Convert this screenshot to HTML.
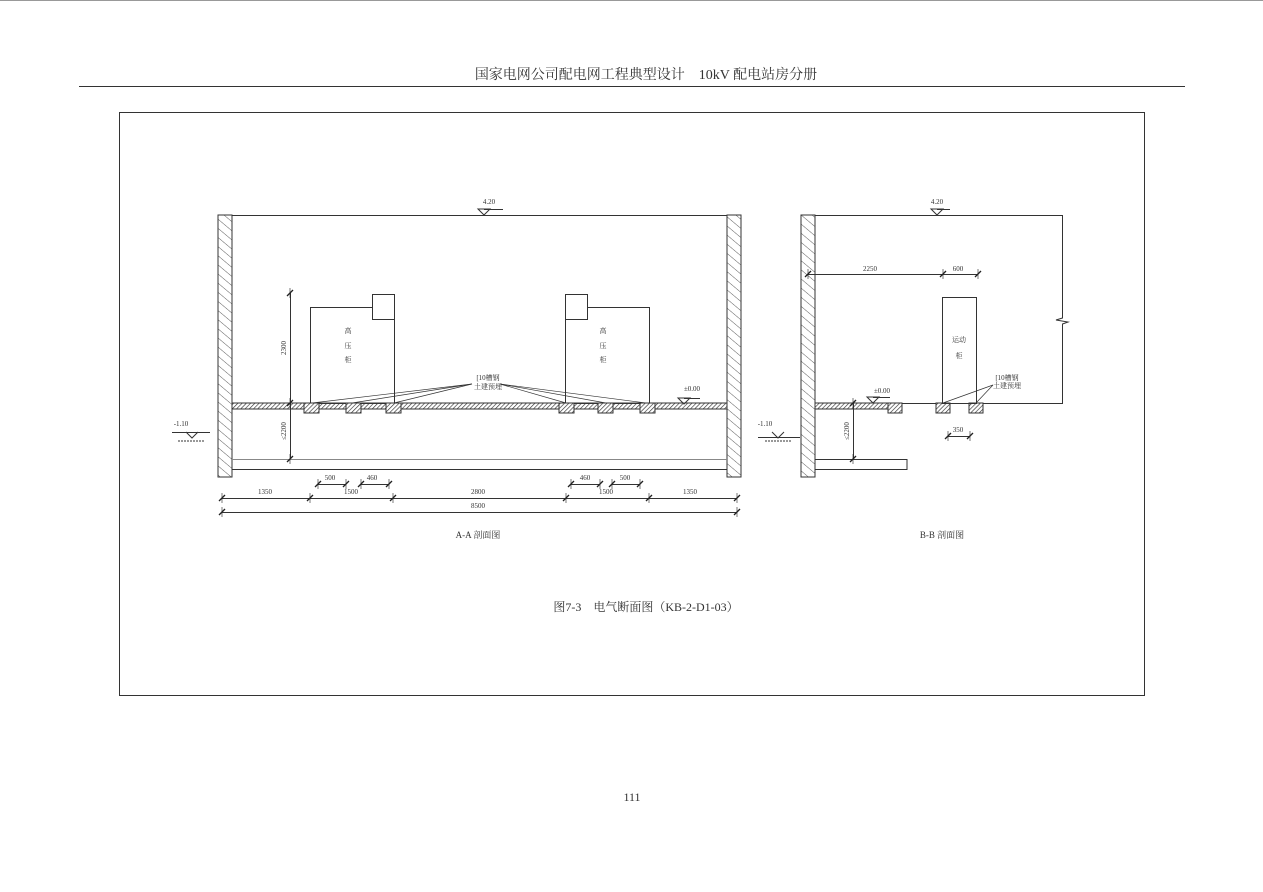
<!DOCTYPE html>
<html><head><meta charset="utf-8"><style>
html,body{margin:0;padding:0;background:#fff;}
svg{display:block;}
text{font-family:"Liberation Serif","Noto Serif CJK SC","Noto Sans CJK SC",serif;fill:#333;}
</style></head><body>
<svg width="1263" height="892" viewBox="0 0 1263 892" xmlns="http://www.w3.org/2000/svg">
<defs>
<pattern id="h" width="3" height="3" patternUnits="userSpaceOnUse" patternTransform="rotate(45)">
<rect width="3" height="3" fill="#fff"/><line x1="0" y1="0" x2="0" y2="3" stroke="#333" stroke-width="1.3"/></pattern>
<pattern id="w" width="7" height="7" patternUnits="userSpaceOnUse" patternTransform="rotate(-50)">
<rect width="7" height="7" fill="#fff"/><line x1="0" y1="0" x2="0" y2="7" stroke="#333" stroke-width="0.8"/></pattern>
<g id="tk"><line x1="-3" y1="3" x2="3" y2="-3" stroke="#222" stroke-width="1.3"/><line x1="0" y1="-5" x2="0" y2="5" stroke="#222" stroke-width="0.6"/></g>
</defs>
<line x1="0" y1="0.5" x2="1263" y2="0.5" stroke="#999"/>
<text x="646" y="79" font-size="14" text-anchor="middle" fill="#222">国家电网公司配电网工程典型设计　10kV 配电站房分册</text>
<line x1="79" y1="86.5" x2="1185" y2="86.5" stroke="#333"/>
<rect x="119.5" y="112.5" width="1025" height="583" fill="none" stroke="#333"/>

<g stroke="#333" fill="none" stroke-width="1">
<rect x="218" y="215" width="14" height="262" fill="url(#w)"/>
<rect x="727" y="215" width="14" height="262" fill="url(#w)"/>
<line x1="232" y1="215.5" x2="727" y2="215.5"/>
<rect x="232" y="403" width="495" height="6" fill="url(#h)"/>
<line x1="232" y1="459.5" x2="727" y2="459.5" stroke="#888"/>
<line x1="232" y1="469.5" x2="727" y2="469.5"/>
<rect x="310.5" y="307.5" width="84" height="96"/>
<rect x="372.5" y="294.5" width="22" height="25" fill="#fff"/>
<rect x="565.5" y="307.5" width="84" height="96"/>
<rect x="565.5" y="294.5" width="22" height="25" fill="#fff"/>
<g fill="url(#h)">
<rect x="304" y="403" width="15" height="10"/><rect x="346" y="403" width="15" height="10"/><rect x="386" y="403" width="15" height="10"/>
<rect x="559" y="403" width="15" height="10"/><rect x="598" y="403" width="15" height="10"/><rect x="640" y="403" width="15" height="10"/>
</g>
<g stroke-width="0.7">
<line x1="312" y1="403" x2="472" y2="384"/><line x1="352" y1="403" x2="472" y2="384"/><line x1="394" y1="403" x2="472" y2="384"/>
<line x1="500" y1="384" x2="566" y2="403"/><line x1="500" y1="384" x2="606" y2="403"/><line x1="500" y1="384" x2="646" y2="403"/>
</g>
<line x1="290.5" y1="293" x2="290.5" y2="459"/>
<line x1="172" y1="432.5" x2="210" y2="432.5"/>
<path d="M186 432 L192 438 L198 432"/>
<line x1="178" y1="441" x2="205" y2="441" stroke-dasharray="2 1"/>
<path d="M478 209 L484 215 L490 209 Z M484 209.5 L503 209.5"/>
<path d="M678 398 L684 404 L690 398 Z M684 398.5 L700 398.5"/>
<line x1="318" y1="484.5" x2="346" y2="484.5"/><line x1="361" y1="484.5" x2="389" y2="484.5"/>
<line x1="571" y1="484.5" x2="600" y2="484.5"/><line x1="612" y1="484.5" x2="640" y2="484.5"/>
<line x1="222" y1="498.5" x2="737" y2="498.5"/>
<line x1="222" y1="512.5" x2="737" y2="512.5"/>
<rect x="801" y="215" width="14" height="262" fill="url(#w)"/>
<line x1="815" y1="215.5" x2="1062" y2="215.5"/>
<path d="M1062.5 215 V318 L1056 320 L1068 322 L1062.5 324 V403.5 H815"/>
<rect x="815" y="403" width="73" height="6" fill="url(#h)"/>
<rect x="888" y="403" width="14" height="10" fill="url(#h)"/>
<rect x="936" y="403" width="14" height="10" fill="url(#h)"/>
<rect x="969" y="403" width="14" height="10" fill="url(#h)"/>
<rect x="942.5" y="297.5" width="34" height="106"/>
<g stroke-width="0.7"><line x1="943" y1="403" x2="993" y2="385"/><line x1="976" y1="403" x2="993" y2="385"/></g>
<line x1="808" y1="274.5" x2="978" y2="274.5"/>
<line x1="853.5" y1="403" x2="853.5" y2="459"/>
<path d="M815 459.5 H907 V469.5 H815"/>
<line x1="948" y1="436.5" x2="970" y2="436.5"/>
<line x1="758" y1="437.5" x2="800" y2="437.5"/>
<path d="M772 432 L778 438 L784 432"/>
<line x1="765" y1="441" x2="792" y2="441" stroke-dasharray="2 1"/>
<path d="M931 209 L937 215 L943 209 Z M937 209.5 L950 209.5"/>
<path d="M867 397 L873 403 L879 397 Z M873 397.5 L890 397.5"/>
</g>
<g>
<use href="#tk" x="290" y="293"/><use href="#tk" x="290" y="403"/><use href="#tk" x="290" y="459"/>
<use href="#tk" x="318" y="484"/><use href="#tk" x="346" y="484"/><use href="#tk" x="361" y="484"/><use href="#tk" x="389" y="484"/>
<use href="#tk" x="571" y="484"/><use href="#tk" x="600" y="484"/><use href="#tk" x="612" y="484"/><use href="#tk" x="640" y="484"/>
<use href="#tk" x="222" y="498"/><use href="#tk" x="310" y="498"/><use href="#tk" x="393" y="498"/><use href="#tk" x="566" y="498"/><use href="#tk" x="649" y="498"/><use href="#tk" x="737" y="498"/>
<use href="#tk" x="222" y="512"/><use href="#tk" x="737" y="512"/>
<use href="#tk" x="808" y="274"/><use href="#tk" x="943" y="274"/><use href="#tk" x="978" y="274"/>
<use href="#tk" x="853" y="403"/><use href="#tk" x="853" y="459"/>
<use href="#tk" x="948" y="436"/><use href="#tk" x="970" y="436"/>
</g>
<g font-size="7" text-anchor="middle">
<text x="489" y="204">4.20</text><text x="937" y="204">4.20</text>
<text x="181" y="426">-1.10</text><text x="765" y="426">-1.10</text>
<text x="692" y="391">±0.00</text><text x="882" y="393">±0.00</text>
<text x="330" y="480">500</text><text x="372" y="480">460</text><text x="585" y="480">460</text><text x="625" y="480">500</text>
<text x="265" y="494">1350</text><text x="351" y="494">1500</text><text x="478" y="494">2800</text><text x="606" y="494">1500</text><text x="690" y="494">1350</text>
<text x="478" y="508">8500</text>
<text x="870" y="271">2250</text><text x="958" y="271">600</text><text x="958" y="432">350</text>
<text x="286" y="348" transform="rotate(-90 286 348)">2300</text>
<text x="286" y="431" transform="rotate(-90 286 431)">≤2200</text>
<text x="849" y="431" transform="rotate(-90 849 431)">≤2200</text>
<text x="488" y="380">[10槽钢</text><text x="488" y="389">土建预埋</text>
<text x="1007" y="380">[10槽钢</text><text x="1007" y="388">土建预埋</text>
<text x="348" y="333">高</text><text x="348" y="348">压</text><text x="348" y="362">柜</text>
<text x="603" y="333">高</text><text x="603" y="348">压</text><text x="603" y="362">柜</text>
<text x="959" y="342">运动</text><text x="959" y="358">柜</text>
</g>
<g font-size="9" text-anchor="middle">
<text x="478" y="538">A-A 剖面图</text><text x="942" y="538">B-B 剖面图</text>
</g>
<text x="646" y="611" font-size="12" text-anchor="middle" fill="#222">图7-3　电气断面图（KB-2-D1-03）</text>
<text x="632" y="801" font-size="12" text-anchor="middle" fill="#222">111</text>
</svg>
</body></html>
